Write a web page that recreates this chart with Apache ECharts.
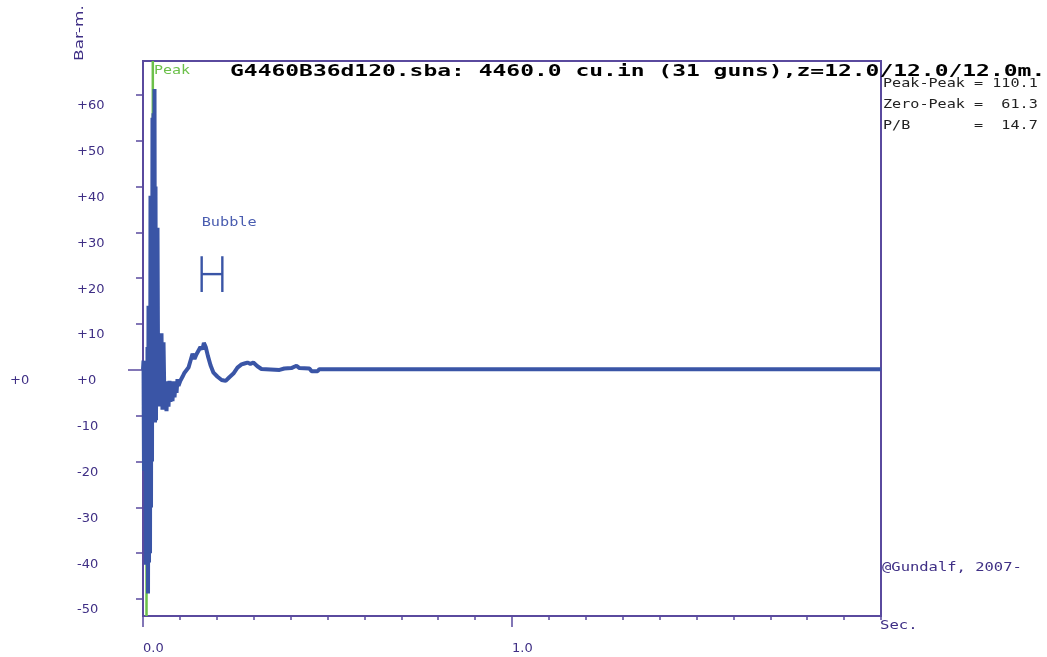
<!DOCTYPE html>
<html>
<head>
<meta charset="utf-8">
<script src="https://cdn.jsdelivr.net/npm/echarts@6/dist/echarts.min.js"></script>
<style>html,body{margin:0;padding:0;background:#fff;}#c{width:1047px;height:657px;}</style>
</head>
<body>
<div id="c"></div>
<script>
// ---- data ----
const titleText = 'G4460B36d120.sba: 4460.0 cu.in (31 guns),z=12.0/12.0/12.0m.';
const statLabels = ['Peak-Peak', 'Zero-Peak', 'P/B'];
const statValues = ['110.1', '61.3', '14.7'];
const yTickValues = [-50, -40, -30, -20, -10, 0, 10, 20, 30, 40, 50, 60];
const xLabelValues = [0, 1];
const xMajorTicks = [0, 1];
const yRange = [-53.7, 67.4];
const xRange = [0, 2];
// signature: time (s) and pressure (bar-m)
const sigT = [
  0.0000,0.0014,0.0027,0.0041,0.0054,0.0068,0.0081,0.0095,0.0108,0.0122,0.0136,0.0149,0.0163,0.0176,0.0190,
  0.0203,0.0217,0.0230,0.0244,0.0257,0.0271,0.0285,0.0298,0.0312,0.0325,0.0339,0.0352,0.0366,0.0379,0.0393,
  0.0407,0.0420,0.0447,0.0474,0.0501,0.0528,0.0556,0.0583,0.0610,0.0637,0.0664,0.0691,0.0718,0.0745,0.0772,
  0.0799,0.0827,0.0854,0.0881,0.0908,0.0935,0.0962,0.1016,0.1070,0.1125,0.1179,0.1233,0.1287,0.1342,0.1396,
  0.1450,0.1504,0.1558,0.1612,0.1650,0.1700,0.1760,0.1830,0.1910,0.2020,0.2130,0.2240,0.2340,0.2450,0.2560,
  0.2670,0.2750,0.2830,0.2910,0.2990,0.3100,0.3210,0.3700,0.3750,0.3830,0.4020,0.4160,0.4240,0.4510,0.4570,
  0.4730,0.4780,2.0000];
const sigV = [
  0,2,-22,1,-20,0,-42.5,-5,-42,5,-48.8,14,-42,12,-40,
  38,-30,38,-20,55,-10,56,-8,61.3,-11.5,40,-11,31,-8,31,
  3,-6,8,-8,8,-8.7,6,-8,-3,-9,-2.5,-8,-2.4,-7,-3,
  -6.8,-2.5,-6,-2.5,-5,-2,-3.5,-2.3,-1.5,-0.6,-0.8,0.5,2,3.5,2.4,
  3.4,3.0,5,4.5,5.9,5,3,1,-0.6,-1.5,-2.2,-2.4,-1.6,-0.8,0.5,
  1.2,1.4,1.6,1.3,1.6,0.8,0.2,0.0,0.3,0.3,0.4,0.9,0.4,0.3,-0.3,
  -0.3,0.15,0.15];
// green peak / trough markers: [time, extreme value]
const peakMarks = [[0.0266, 61.3], [0.0095, -48.8]];
// bubble marker: [tStart, tEnd, yLow, yHigh]
const bubbleMark = [[0.159, 0.215, 17.0, 24.8]];

const purple = '#3f2f85';
const axisPurple = '#5a4a9e';
const blue = '#3a55a6';
const green = '#6cc04a';
const mono = '"DejaVu Sans Mono"';

function pad(s, n) { while (s.length < n) s += ' '; return s; }
function lpad(s, n) { while (s.length < n) s = ' ' + s; return s; }
const statText = statLabels.map((l, i) => pad(l, 10) + '= ' + lpad(statValues[i], 5)).join('\n');

const chart = echarts.init(document.getElementById('c'), null, { renderer: 'canvas' });
const yLabelFmt = v => (v >= 0 ? '+' : '') + v;

chart.setOption({
  animation: false,
  backgroundColor: '#fff',
  grid: { left: 143, right: 166, top: 61, bottom: 41, show: true, borderColor: axisPurple, borderWidth: 2, backgroundColor: 'transparent' },
  xAxis: [
    { type: 'value', min: xRange[0], max: xRange[1], interval: 0.1, position: 'bottom',
      axisLine: { show: true, onZero: false, lineStyle: { color: axisPurple, width: 2 } },
      axisTick: { show: true, length: 4, lineStyle: { color: axisPurple, width: 1.5 } },
      axisLabel: { customValues: xLabelValues, formatter: v => v.toFixed(1), align: 'left', margin: 26,
        color: purple, fontSize: 13, fontFamily: 'DejaVu Sans' },
      splitLine: { show: false } },
    { type: 'value', min: xRange[0], max: xRange[1], position: 'bottom',
      axisLine: { show: false, onZero: false },
      axisTick: { show: true, customValues: xMajorTicks, length: 11, lineStyle: { color: axisPurple, width: 1.5 } },
      axisLabel: { show: false }, splitLine: { show: false } }
  ],
  yAxis: [
    { type: 'value', min: yRange[0], max: yRange[1], position: 'left',
      axisLine: { show: true, onZero: false, lineStyle: { color: axisPurple, width: 2 } },
      axisTick: { show: true, customValues: yTickValues, length: 7, lineStyle: { color: axisPurple, width: 1.5 } },
      axisLabel: { customValues: yTickValues, formatter: yLabelFmt, align: 'left', margin: 66,
        verticalAlign: 'top', lineHeight: 22, color: purple, fontSize: 13, fontFamily: 'DejaVu Sans' },
      splitLine: { show: false } },
    { type: 'value', min: yRange[0], max: yRange[1], position: 'left',
      axisLine: { show: false, onZero: false },
      axisTick: { show: true, customValues: [0], length: 15, lineStyle: { color: axisPurple, width: 1.5 } },
      axisLabel: { customValues: [0], formatter: yLabelFmt, align: 'left', margin: 133,
        verticalAlign: 'top', lineHeight: 22, color: purple, fontSize: 13, fontFamily: 'DejaVu Sans' },
      splitLine: { show: false } }
  ],
  series: [
    { type: 'custom', name: 'peakMarkers', z: 1, silent: true, clip: true,
      data: peakMarks,
      encode: { x: 0, y: 1 },
      renderItem: function (params, api) {
        const v = api.value(1);
        const a = api.coord([api.value(0), v > 0 ? yRange[1] : yRange[0]]);
        const b = api.coord([api.value(0), 0]);
        return { type: 'line', shape: { x1: a[0], y1: a[1], x2: b[0], y2: b[1] },
          style: { stroke: green, lineWidth: 2.5 } };
      } },
    { type: 'line', name: 'signature', z: 3, showSymbol: false, symbol: 'none', silent: true,
      data: sigT.map((t, i) => [t, sigV[i]]),
      lineStyle: { color: blue, width: 4, join: 'bevel' } },
    { type: 'custom', name: 'bubble', z: 4, silent: true,
      data: bubbleMark,
      encode: { x: [0, 1], y: [2, 3] },
      renderItem: function (params, api) {
        const lt = api.coord([api.value(0), api.value(3)]);
        const rb = api.coord([api.value(1), api.value(2)]);
        const my = (lt[1] + rb[1]) / 2;
        const st = { stroke: blue, lineWidth: 2.4 };
        return { type: 'group', children: [
          { type: 'line', shape: { x1: lt[0], y1: lt[1], x2: lt[0], y2: rb[1] }, style: st },
          { type: 'line', shape: { x1: rb[0], y1: lt[1], x2: rb[0], y2: rb[1] }, style: st },
          { type: 'line', shape: { x1: lt[0], y1: my, x2: rb[0], y2: my }, style: st },
          { type: 'text', x: lt[0], y: lt[1] - 33, scaleX: 1.27,
            style: { text: 'Bubble', font: '12px ' + mono, fill: '#4a5db0', align: 'left', verticalAlign: 'middle' } }
        ] };
      } }
  ],
  graphic: [
    { type: 'text', x: 230, y: 72, scaleX: 1.53, z: 10,
      style: { text: titleText, font: 'bold 15px ' + mono, fill: '#000', align: 'left', verticalAlign: 'middle' } },
    { type: 'text', x: 883, y: 73, scaleX: 1.26, z: 11,
      style: { text: statText, font: '12px ' + mono, lineHeight: 21, fill: '#222', align: 'left', verticalAlign: 'top' } },
    { type: 'text', x: 154, y: 71, scaleX: 1.25, z: 10,
      style: { text: 'Peak', font: '12px ' + mono, fill: green, align: 'left', verticalAlign: 'middle' } },
    { type: 'text', x: 882, y: 568, scaleX: 1.29, z: 10,
      style: { text: '@Gundalf, 2007-', font: '12px ' + mono, fill: purple, align: 'left', verticalAlign: 'middle' } },
    { type: 'text', x: 880, y: 626, scaleX: 1.3, z: 10,
      style: { text: 'Sec.', font: '12px ' + mono, fill: purple, align: 'left', verticalAlign: 'middle' } },
    { type: 'text', x: 80, y: 33, rotation: Math.PI / 2, scaleX: 1.3, z: 10,
      style: { text: 'Bar-m.', font: '13px "DejaVu Sans"', fill: purple, align: 'center', verticalAlign: 'middle' } }
  ]
});
</script>
</body>
</html>
